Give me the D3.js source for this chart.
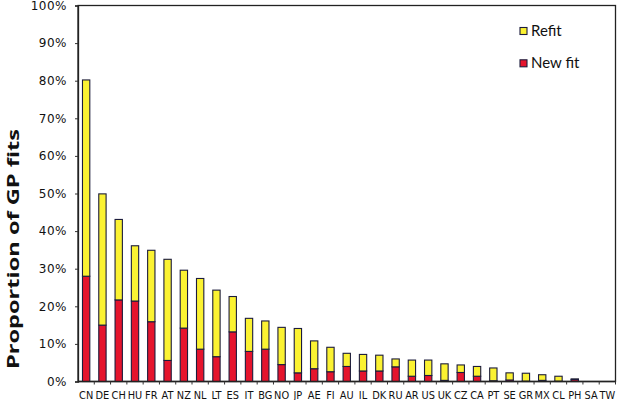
<!DOCTYPE html>
<html>
<head>
<meta charset="utf-8">
<script src="https://cdn.jsdelivr.net/npm/d3@7"></script>
<style>
  html, body { margin: 0; padding: 0; background: #fff; }
  svg { display: block; }
</style>
</head>
<body>
<svg id="chart" width="618" height="400"></svg>
<script>
// ---- data (percent) ----
const categories = ["CN","DE","CH","HU","FR","AT","NZ","NL","LT","ES","IT","BG","NO","JP","AE","FI","AU","IL","DK","RU","AR","US","UK","CZ","CA","PT","SE","GR","MX","CL","PH","SA","TW"];
const newFit = [28.0,15.0,21.7,21.4,15.9,5.6,14.2,8.6,6.6,13.2,8.0,8.6,4.5,2.3,3.4,2.6,4.0,2.8,2.8,3.9,1.4,1.6,0.3,2.4,1.4,0.2,0.4,0.1,0.3,0.1,0.5,0,0];
const refit  = [52.2,34.9,21.4,14.7,19.0,26.9,15.4,18.8,17.7,9.4,8.8,7.5,9.9,11.8,7.4,6.5,3.5,4.4,4.2,2.1,4.3,4.1,4.4,2.0,2.6,3.4,1.9,2.1,1.5,1.3,0.2,0,0];
const yTicks = [0,10,20,30,40,50,60,70,80,90,100];
const seriesNames = ["New fit","Refit"];
const seriesColors = ["#e5142d","#fbf232"];

const svg = d3.select("#chart");
const margin = {left: 78, top: 5.5, right: 2.5, bottom: 18.5};
const W = 618, H = 400;

const x = d3.scaleBand().domain(categories)
  .range([margin.left, W - margin.right])
  .paddingInner(0.55).paddingOuter(0.275);
const y = d3.scaleLinear().domain([0, 100]).range([H - margin.bottom, margin.top]);

const rows = categories.map((c, i) => ({cat: c, "New fit": newFit[i], "Refit": refit[i]}));
const stacked = d3.stack().keys(seriesNames)(rows);
const color = d3.scaleOrdinal().domain(seriesNames).range(seriesColors);

// frame box
svg.append("rect")
  .attr("x", margin.left).attr("y", margin.top)
  .attr("width", W - margin.right - margin.left)
  .attr("height", H - margin.bottom - margin.top)
  .attr("fill", "none").attr("stroke", "#222").attr("stroke-width", 1.3);

// bars
svg.append("g").selectAll("g").data(stacked).join("g")
  .attr("fill", d => color(d.key))
  .selectAll("rect").data(d => d.filter(p => p[1] - p[0] > 0)).join("rect")
  .attr("x", d => x(d.data.cat))
  .attr("width", x.bandwidth())
  .attr("y", d => y(d[1]))
  .attr("height", d => y(d[0]) - y(d[1]))
  .attr("stroke", "#1c1c3c").attr("stroke-width", 1.1);

// y axis
const yAxis = svg.append("g").attr("transform", `translate(${margin.left},0)`)
  .call(d3.axisLeft(y).tickValues(yTicks).tickFormat(d => d + "%").tickSize(3).tickPadding(8));
yAxis.select(".domain").attr("stroke", "#222").attr("stroke-width", 1.3);
yAxis.selectAll(".tick line").attr("stroke", "#333");
yAxis.selectAll(".tick text")
  .attr("font-family", "DejaVu Sans, Verdana, sans-serif")
  .attr("font-size", 12).attr("letter-spacing", 0.5).attr("fill", "#111");

// x axis (labels at band centers, ticks at band boundaries)
const xAxis = svg.append("g").attr("transform", `translate(0,${H - margin.bottom})`);
xAxis.append("line").attr("x1", margin.left).attr("x2", W - margin.right)
  .attr("stroke", "#222").attr("stroke-width", 1.3);
xAxis.selectAll("line.tk").data(categories).join("line").attr("class", "tk")
  .attr("x1", d => x(d) + x.bandwidth() / 2 + x.step() / 2)
  .attr("x2", d => x(d) + x.bandwidth() / 2 + x.step() / 2)
  .attr("y1", 0).attr("y2", 3).attr("stroke", "#333");
xAxis.selectAll("text").data(categories).join("text")
  .attr("x", d => x(d) + x.bandwidth() / 2)
  .attr("y", 17)
  .attr("text-anchor", "middle")
  .attr("font-family", "DejaVu Sans, Verdana, sans-serif")
  .attr("font-size", 9.8).attr("fill", "#111")
  .text(d => d);

// y axis title
svg.append("text")
  .attr("transform", `translate(18.5,249) rotate(-90)`)
  .attr("text-anchor", "middle")
  .attr("font-family", "Open Sans, sans-serif")
  .attr("font-weight", "bold").attr("font-size", 16.5)
  .attr("textLength", 240).attr("lengthAdjust", "spacingAndGlyphs")
  .attr("fill", "#111")
  .text("Proportion of GP fits");

// legend
const legendItems = ["Refit", "New fit"];
const lg = svg.append("g").selectAll("g").data(legendItems).join("g")
  .attr("transform", (d, i) => `translate(520,${27.5 + i * 32.3})`);
lg.append("rect").attr("width", 7).attr("height", 7)
  .attr("fill", d => color(d)).attr("stroke", "#1c1c3c").attr("stroke-width", 1.1);
lg.append("text").attr("x", 11).attr("y", 8.5)
  .attr("font-family", "Lato, sans-serif").attr("font-size", 15).attr("fill", "#111")
  .text(d => d);
</script>
</body>
</html>
